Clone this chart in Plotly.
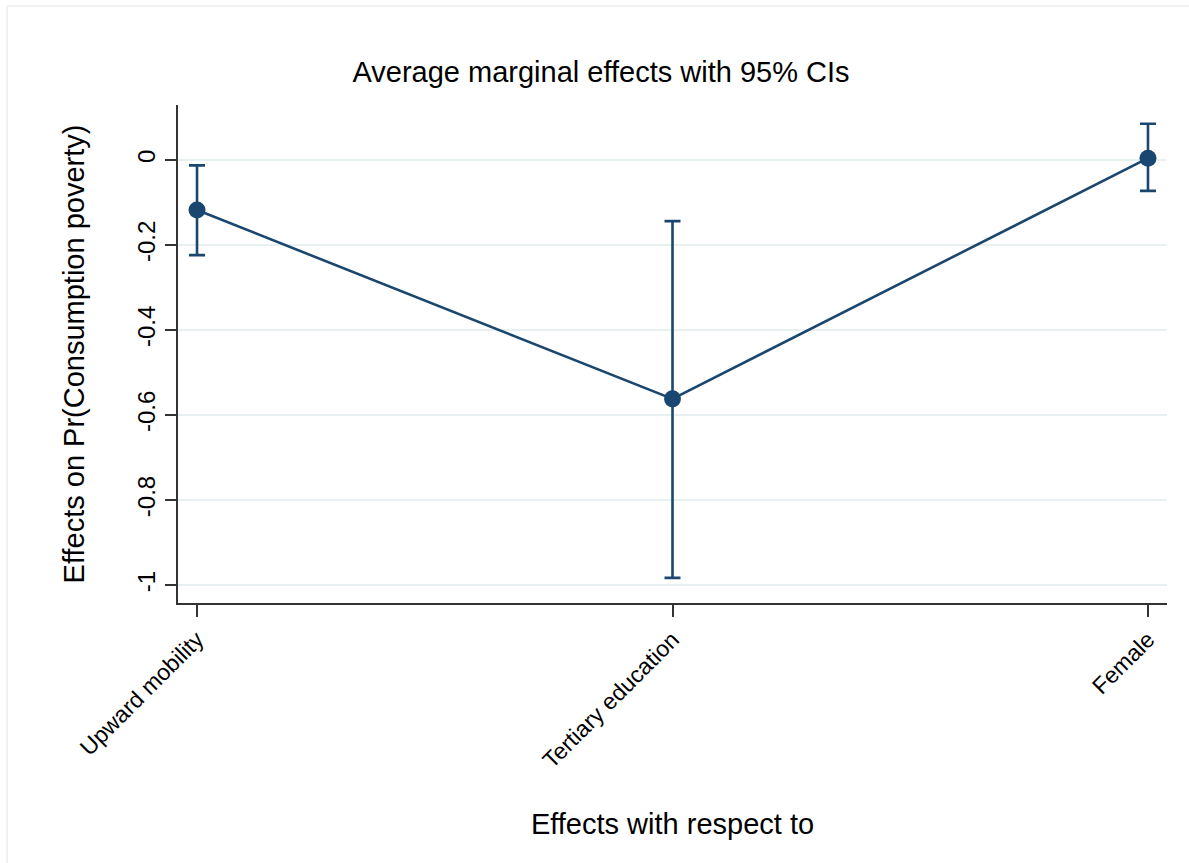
import plotly.graph_objects as go

categories = ["Upward mobility", "Tertiary education", "Female"]
effects = [-0.118, -0.562, 0.004]
ci_upper = [-0.013, -0.144, 0.085]
ci_lower = [-0.224, -0.983, -0.073]
y_ticks = [0, -0.2, -0.4, -0.6, -0.8, -1]
y_tick_labels = ["0", "-0.2", "-0.4", "-0.6", "-0.8", "-1"]

navy = "#1a476f"
font_family = "Liberation Sans, Arial, Helvetica, sans-serif"

err_plus = [u - e for u, e in zip(ci_upper, effects)]
err_minus = [e - l for e, l in zip(effects, ci_lower)]

fig = go.Figure()
fig.add_trace(go.Scatter(
    x=categories, y=effects,
    mode="lines+markers",
    line=dict(color=navy, width=2.6),
    marker=dict(color=navy, size=17),
    error_y=dict(type="data", symmetric=False, array=err_plus, arrayminus=err_minus,
                 color=navy, thickness=2.6, width=8),
    showlegend=False,
))

# faint outer frame (left and top edges)
fig.add_shape(type="line", xref="paper", yref="paper",
              x0=(7 - 178) / 989, x1=1.03, y0=(603 - 6) / 498, y1=(603 - 6) / 498,
              line=dict(color="#eeeeee", width=1.5), layer="below")
fig.add_shape(type="line", xref="paper", yref="paper",
              x0=(7 - 178) / 989, x1=(7 - 178) / 989, y0=(603 - 6) / 498, y1=-0.6,
              line=dict(color="#eeeeee", width=1.5), layer="below")

fig.update_layout(
    width=1189, height=863,
    margin=dict(l=178, r=22, t=105, b=260),
    paper_bgcolor="white", plot_bgcolor="white",
    font=dict(family=font_family, color="black"),
    title=dict(text="Average marginal effects with 95% CIs", x=601/1189, xanchor="center",
               y=1 - 72/863, yanchor="middle", font=dict(size=29, color="black")),
)
fig.update_xaxes(
    type="category", range=[-0.04, 2.04],
    showline=True, linecolor="#333333", linewidth=2,
    ticks="outside", ticklen=12, tickwidth=1.5, tickcolor="#333333",
    tickangle=-45, tickfont=dict(size=23, color="black"),
    showgrid=False, zeroline=False,
    title=dict(text="Effects with respect to", font=dict(size=29, color="black"), standoff=42),
)
fig.update_yaxes(
    range=[-1.042, 0.129],
    tickvals=y_ticks, ticktext=y_tick_labels,
    showline=True, linecolor="#333333", linewidth=2,
    ticks="outside", ticklen=11, tickwidth=1.5, tickcolor="#333333",
    tickangle=-90, tickfont=dict(size=24, color="black"),
    showgrid=True, gridcolor="#e8f0f2", gridwidth=1.5, zeroline=False,
    title=dict(text="Effects on Pr(Consumption poverty)", font=dict(size=29, color="black"), standoff=40),
)

fig.write_html("out.html")
